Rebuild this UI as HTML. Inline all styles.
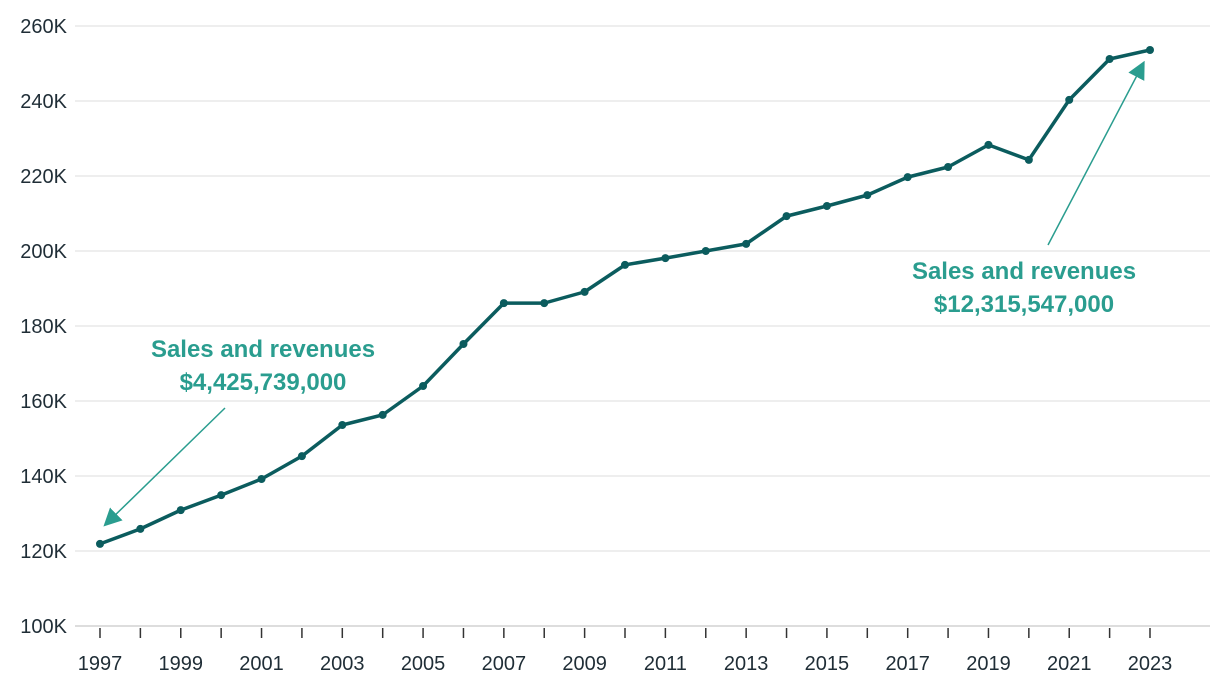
<!DOCTYPE html>
<html><head><meta charset="utf-8"><style>
body{margin:0;background:#fff;}
svg{display:block;font-family:"Liberation Sans",sans-serif;}
</style></head><body>
<svg id="chart" width="1220" height="688">
<defs><marker id="ah" viewBox="0 0 10 10" refX="8" refY="5" markerWidth="12" markerHeight="12" markerUnits="userSpaceOnUse" orient="auto-start-reverse"><path d="M0,0L10,5L0,10z" fill="#2a9d8f"/></marker>
<marker id="ah2" viewBox="0 0 10 10" refX="8" refY="5" markerWidth="18" markerHeight="18" markerUnits="userSpaceOnUse" orient="auto-start-reverse"><path d="M0,0L10,5L0,10z" fill="#2a9d8f"/></marker></defs>
<g id="grid"></g><g id="xaxis"></g><g id="series"></g>
<g>
<text x="263" y="357" text-anchor="middle" font-size="24" font-weight="600" fill="#2a9d8f">Sales and revenues</text>
<text x="263" y="390" text-anchor="middle" font-size="24" font-weight="600" fill="#2a9d8f">$4,425,739,000</text>
<line x1="225" y1="408" x2="106" y2="524" stroke="#2a9d8f" stroke-width="1.5" marker-end="url(#ah2)"/>
</g>
<g>
<text x="1024" y="279" text-anchor="middle" font-size="24" font-weight="600" fill="#2a9d8f">Sales and revenues</text>
<text x="1024" y="312" text-anchor="middle" font-size="24" font-weight="600" fill="#2a9d8f">$12,315,547,000</text>
<line x1="1048" y1="245" x2="1143" y2="64" stroke="#2a9d8f" stroke-width="1.5" marker-end="url(#ah2)"/>
</g>
</svg>
<script>
const years=[1997,1998,1999,2000,2001,2002,2003,2004,2005,2006,2007,2008,2009,2010,2011,2012,2013,2014,2015,2016,2017,2018,2019,2020,2021,2022,2023];
const values=[121.9,125.9,130.9,134.9,139.2,145.3,153.6,156.3,164,175.2,186.1,186.1,189.1,196.3,198.1,200,201.9,209.3,212,214.9,219.7,222.4,228.3,224.3,240.3,251.2,253.6];
const yTicks=[100,120,140,160,180,200,220,240,260];
const yTickLabels=["100K","120K","140K","160K","180K","200K","220K","240K","260K"];
const NS="http://www.w3.org/2000/svg";
const x=v=>100+(v-1997)*(1050/26);
const y=v=>626-(v-100)*3.75;
function mk(tag,attrs,parent){const e=document.createElementNS(NS,tag);for(const k in attrs)e.setAttribute(k,attrs[k]);parent.appendChild(e);return e;}
const grid=document.getElementById('grid');
yTicks.forEach((t,i)=>{
 const l=mk('line',{x1:75,x2:1210,y1:y(t),y2:y(t),stroke:t===100?'#bbb':'#ddd','stroke-width':1},grid);
 
 
 const tx=mk('text',{x:67,y:y(t)+7,'text-anchor':'end','font-size':20,fill:'#1f2d36'},grid);
 tx.textContent=yTickLabels[i];
 
 
});
const xa=document.getElementById('xaxis');
years.forEach(yr=>{
 const t=mk('line',{x1:x(yr),x2:x(yr),y1:628,y2:638,stroke:'#333','stroke-width':1.5},xa);
 
 
 if(yr%2===1){const tx=mk('text',{x:x(yr),y:670,'text-anchor':'middle','font-size':20,fill:'#1f2d36'},xa);tx.textContent=yr;
 
 }
});
const s=document.getElementById('series');
const p=mk('polyline',{points:years.map((yr,i)=>x(yr)+','+y(values[i])).join(' '),fill:'none',stroke:'#0b5c5e','stroke-width':3.5,'stroke-linejoin':'round'},s);


years.forEach((yr,i)=>{const c=mk('circle',{cx:x(yr),cy:y(values[i]),r:4,fill:'#0b5c5e'},s);
 
 });
</script>
</body></html>
